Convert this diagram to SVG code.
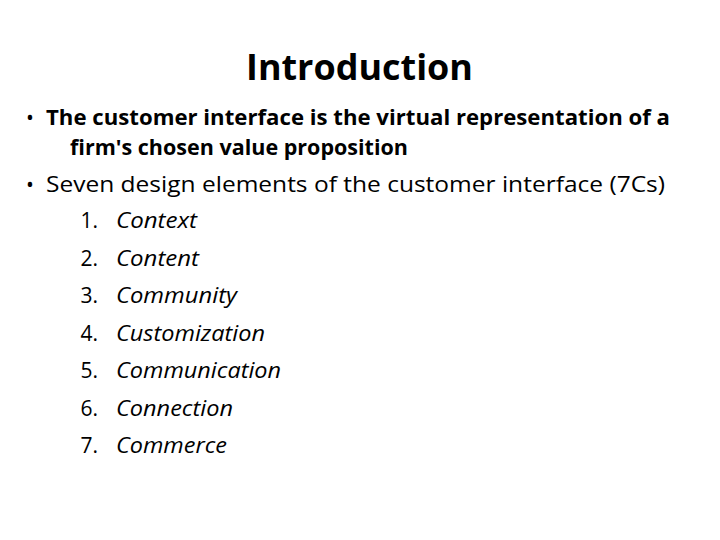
<svg xmlns="http://www.w3.org/2000/svg" width="720" height="540" viewBox="0 0 720 540">
<style>
text{font-family:"Open Sans","Liberation Sans",sans-serif;fill:#000}
.b{font-size:21px}
.n{font-size:21px}
.i{font-size:21px;font-style:italic}
</style>
<rect width="720" height="540" fill="#fff"/>
<g id="title"><text x="246" y="80" font-size="36" font-weight="bold" textLength="227" lengthAdjust="spacingAndGlyphs">Introduction</text></g>
<g id="bullet1">
<text x="26" y="125" class="b">•</text>
<text x="46" y="125" class="b" font-weight="bold" textLength="624" lengthAdjust="spacingAndGlyphs">The customer interface is the virtual representation of a</text>
<text x="70" y="155" class="b" font-weight="bold" textLength="338" lengthAdjust="spacingAndGlyphs">firm's chosen value proposition</text>
</g>
<g id="bullet2">
<text x="26" y="192" class="b">•</text>
<text x="46" y="192" class="n" textLength="619" lengthAdjust="spacingAndGlyphs">Seven design elements of the customer interface (7Cs)</text>
</g>
<g id="list">
<text x="98" y="228" class="n" text-anchor="end">1.</text><text x="116" y="228" class="i" textLength="81" lengthAdjust="spacingAndGlyphs">Context</text>
<text x="98" y="266" class="n" text-anchor="end">2.</text><text x="116" y="266" class="i" textLength="83" lengthAdjust="spacingAndGlyphs">Content</text>
<text x="98" y="303" class="n" text-anchor="end">3.</text><text x="116" y="303" class="i" textLength="121" lengthAdjust="spacingAndGlyphs">Community</text>
<text x="98" y="341" class="n" text-anchor="end">4.</text><text x="116" y="341" class="i" textLength="149" lengthAdjust="spacingAndGlyphs">Customization</text>
<text x="98" y="378" class="n" text-anchor="end">5.</text><text x="116" y="378" class="i" textLength="165" lengthAdjust="spacingAndGlyphs">Communication</text>
<text x="98" y="416" class="n" text-anchor="end">6.</text><text x="116" y="416" class="i" textLength="117" lengthAdjust="spacingAndGlyphs">Connection</text>
<text x="98" y="453" class="n" text-anchor="end">7.</text><text x="116" y="453" class="i" textLength="111" lengthAdjust="spacingAndGlyphs">Commerce</text>
</g>
</svg>
